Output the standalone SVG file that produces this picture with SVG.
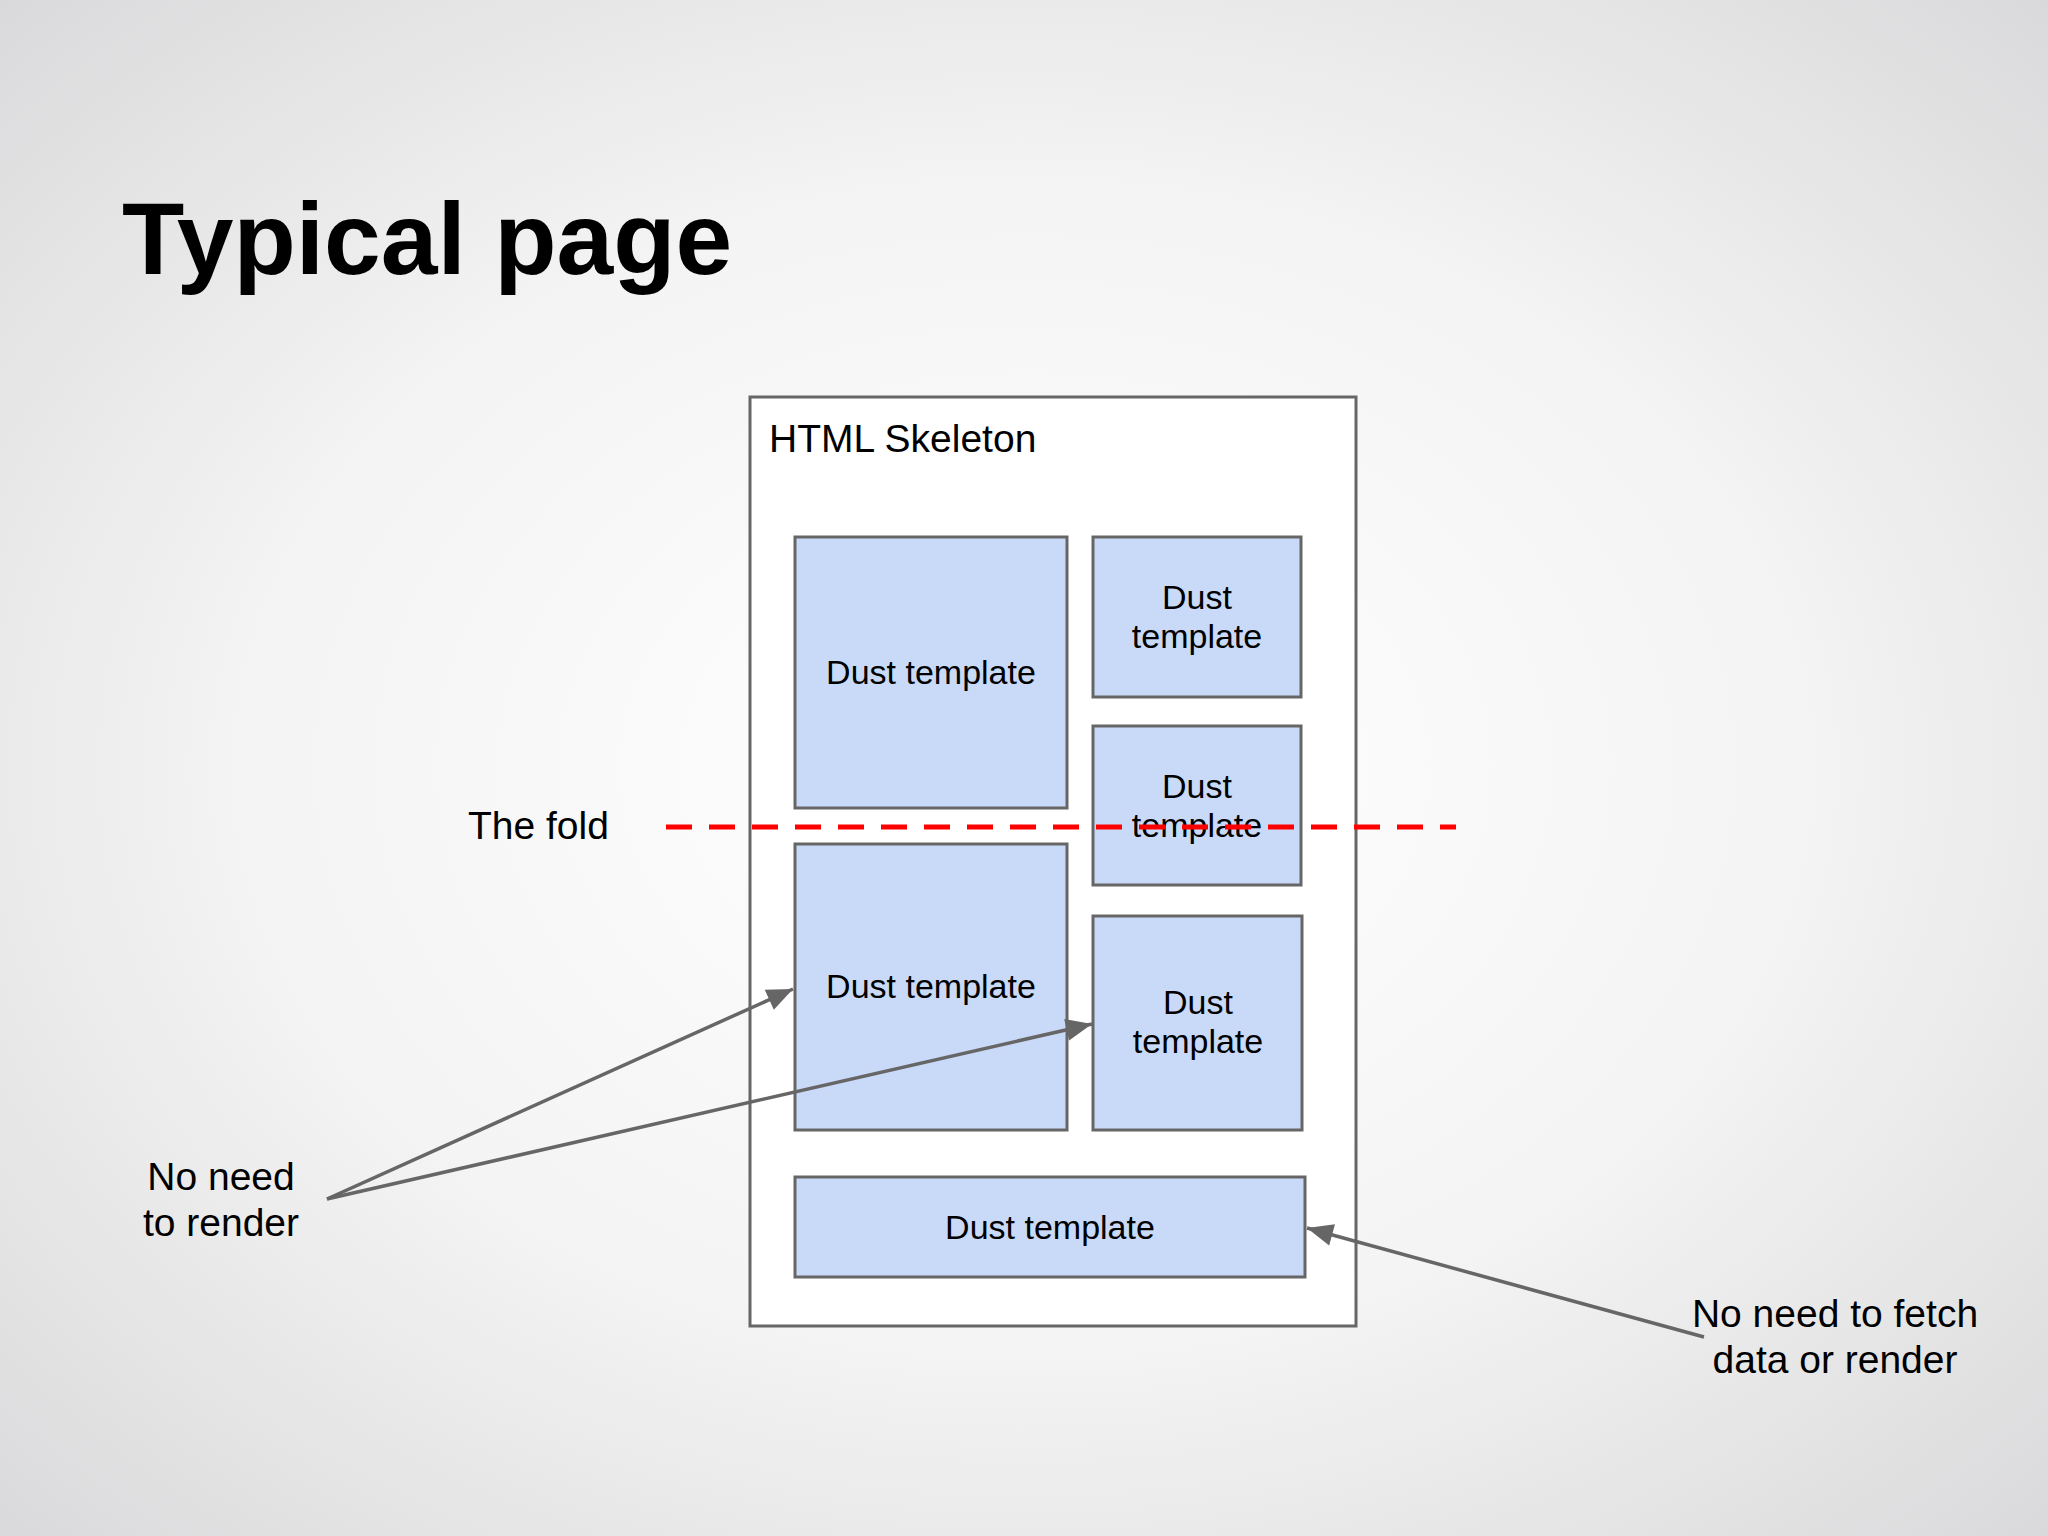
<svg xmlns="http://www.w3.org/2000/svg" width="2048" height="1536" viewBox="0 0 2048 1536">
<defs>
<radialGradient id="bg" cx="50%" cy="50%" r="75%">
<stop offset="0" stop-color="#ffffff"/><stop offset="0.5" stop-color="#f4f4f4"/><stop offset="1" stop-color="#d6d6d8"/>
</radialGradient>
<marker id="ah" viewBox="-30 -15 32 30" refX="0" refY="0" markerWidth="32" markerHeight="30" orient="auto" markerUnits="userSpaceOnUse">
<path d="M0,0 L-26,-11 L-26,11 z" fill="#666"/>
</marker>
<style>
text{font-family:"Liberation Sans",Arial,sans-serif;fill:#000}
.b{fill:#c9daf8;stroke:#666;stroke-width:3}
.t{font-size:34px;text-anchor:middle}
.l{font-size:39px}
.c{stroke:#666;stroke-width:3.5;fill:none}
</style>
</defs>
<rect width="2048" height="1536" fill="url(#bg)"/>
<text x="122" y="274" style="font-size:102px;font-weight:bold">Typical page</text>
<g id="skeleton"><rect x="750" y="397" width="606" height="929" fill="#fff" stroke="#666" stroke-width="3"/>
<text class="l" x="769" y="452">HTML Skeleton</text></g>
<g id="n1"><rect class="b" x="795" y="537" width="272" height="271"/><text class="t" x="931" y="684">Dust template</text></g>
<g id="n2"><rect class="b" x="1093" y="537" width="208" height="160"/><text class="t" x="1197" y="609">Dust</text><text class="t" x="1197" y="648">template</text></g>
<g id="n3"><rect class="b" x="1093" y="726" width="208" height="159"/><text class="t" x="1197" y="798">Dust</text><text class="t" x="1197" y="837">template</text></g>
<g id="n4"><rect class="b" x="795" y="844" width="272" height="286"/><text class="t" x="931" y="998">Dust template</text></g>
<g id="n5"><rect class="b" x="1093" y="916" width="209" height="214"/><text class="t" x="1198" y="1014">Dust</text><text class="t" x="1198" y="1053">template</text></g>
<g id="n6"><rect class="b" x="795" y="1177" width="510" height="100"/><text class="t" x="1050" y="1239">Dust template</text></g>
<g id="fold"><line x1="666" y1="827" x2="1456" y2="827" stroke="#f00" stroke-width="5" stroke-dasharray="26 17"/>
<text class="l" x="468" y="839">The fold</text></g>
<g id="connectors">
<line class="c" x1="327" y1="1199" x2="793" y2="989" marker-end="url(#ah)"/>
<line class="c" x1="327" y1="1199" x2="1092" y2="1024" marker-end="url(#ah)"/>
<line class="c" x1="1704" y1="1337" x2="1307" y2="1228" marker-end="url(#ah)"/>
</g>
<g id="labels">
<text class="l" x="221" y="1190" text-anchor="middle">No need</text>
<text class="l" x="221" y="1236" text-anchor="middle">to render</text>
<text class="l" x="1835" y="1327" text-anchor="middle">No need to fetch</text>
<text class="l" x="1835" y="1373" text-anchor="middle">data or render</text>
</g>
</svg>
